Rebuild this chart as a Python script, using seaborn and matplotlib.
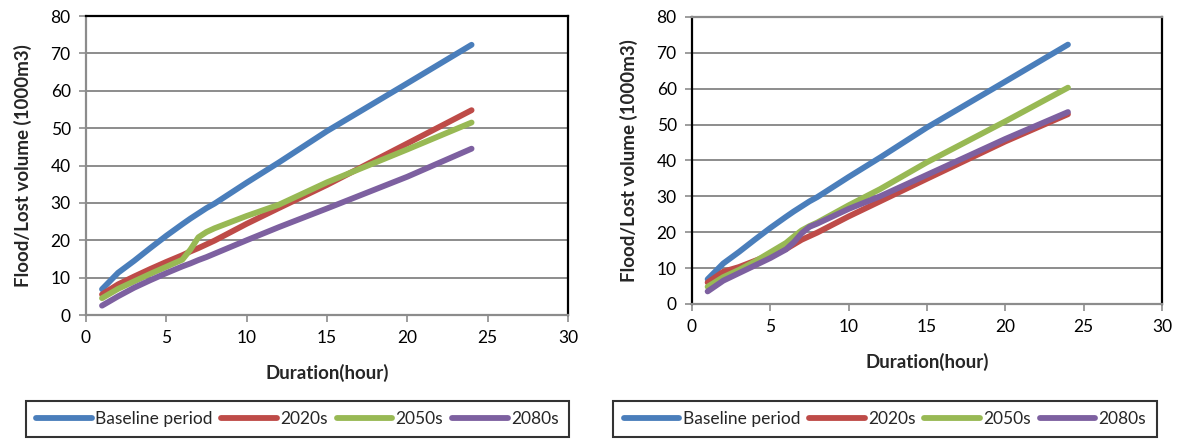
import matplotlib
matplotlib.use("Agg")
import matplotlib.pyplot as plt
import seaborn as sns
import pandas as pd
from matplotlib.lines import Line2D

sns.set_theme(style="white")
plt.rcParams['font.family'] = ['Lato', 'DejaVu Sans']

series_names = ["Baseline period", "2020s", "2050s", "2080s"]
colors = ["#4A7EBB", "#BE4B48", "#98B954", "#7D60A0"]

# Left panel
left_hours = [1, 2, 3, 4, 5, 6, 6.5, 7, 7.5, 8, 10, 12, 15, 20, 24]
left_baseline = [6.9, 11.3, 14.5, 17.9, 21.2, 24.3, 25.8, 27.2, 28.6, 29.8, 35.4, 40.8, 49.2, 62.0, 72.3]
left_2020s = [5.5, 8.2, 10.3, 12.3, 14.2, 16.0, 17.0, 17.9, 18.9, 19.9, 24.4, 28.6, 34.8, 45.9, 54.8]
left_2050s = [4.5, 7.0, 9.0, 11.0, 12.9, 14.8, 17.5, 20.8, 22.2, 23.2, 26.5, 29.5, 35.5, 44.3, 51.5]
left_2080s = [2.5, 5.0, 7.3, 9.3, 11.2, 13.0, 13.8, 14.7, 15.5, 16.4, 20.0, 23.5, 28.5, 37.0, 44.5]

# Right panel
right_hours = [1, 2, 3, 4, 5, 6, 6.5, 7, 7.5, 8, 10, 12, 15, 20, 24]
right_baseline = [6.9, 11.3, 14.5, 17.9, 21.2, 24.3, 25.8, 27.2, 28.6, 29.8, 35.4, 40.8, 49.2, 62.0, 72.3]
right_2020s = [6.0, 9.0, 10.3, 12.0, 13.7, 15.3, 16.6, 17.9, 18.9, 19.9, 24.4, 28.6, 34.9, 45.3, 52.9]
right_2050s = [4.8, 7.5, 9.5, 11.8, 14.4, 17.0, 18.8, 20.5, 21.7, 22.7, 27.5, 32.0, 39.5, 50.9, 60.3]
right_2080s = [3.5, 6.5, 8.6, 10.7, 12.8, 15.2, 17.2, 19.7, 21.5, 22.4, 26.5, 30.0, 36.0, 46.0, 53.5]

x_ticks = [0, 5, 10, 15, 20, 25, 30]
y_ticks = [0, 10, 20, 30, 40, 50, 60, 70, 80]

fig = plt.figure(figsize=(11.92, 4.41), dpi=100)
ax_l = fig.add_axes([0.0721, 0.2857, 0.4044, 0.678])
ax_r = fig.add_axes([0.5805, 0.3107, 0.3943, 0.6508])

def build(hours, vals):
    rows = []
    for name, v in zip(series_names, vals):
        for h, y in zip(hours, v):
            rows.append({"Duration": h, "Volume": y, "Series": name})
    return pd.DataFrame(rows)

panels = [
    (ax_l, build(left_hours, [left_baseline, left_2020s, left_2050s, left_2080s]), "left"),
    (ax_r, build(right_hours, [right_baseline, right_2020s, right_2050s, right_2080s]), "right"),
]

grid_gray = "#8C8C8C"
for ax, df, side in panels:
    sns.lineplot(data=df, x="Duration", y="Volume", hue="Series", palette=colors,
                 hue_order=series_names, linewidth=4.2, ax=ax, legend=False,
                 solid_capstyle="round", solid_joinstyle="round")
    ax.set_xlim(0, 30)
    ax.set_ylim(0, 80)
    ax.set_xticks(x_ticks)
    ax.set_yticks(y_ticks)
    ax.yaxis.grid(True, color=grid_gray, linewidth=1.4)
    ax.xaxis.grid(False)
    ax.set_axisbelow(True)
    ax.tick_params(axis="both", direction="out", length=5, width=1.2, color=grid_gray,
                   labelsize=12.5, labelcolor="black", pad=6, left=True, bottom=True)
    for s in ["top", "right"]:
        ax.spines[s].set_color("black")
        ax.spines[s].set_linewidth(1.6)
    ax.spines["bottom"].set_color(grid_gray)
    ax.spines["bottom"].set_linewidth(1.6)
    if side == "left":
        ax.spines["left"].set_color(grid_gray)
        ax.spines["left"].set_linewidth(1.6)
    else:
        ax.spines["left"].set_color("black")
        ax.spines["left"].set_linewidth(1.6)
        ax.spines["top"].set_color(grid_gray)
    ax.set_xlabel("Duration(hour)", fontsize=13.5, fontweight="bold", labelpad=13)
    ax.set_ylabel("Flood/Lost volume (1000m3)", fontsize=13.5, fontweight="bold", labelpad=13)

handles = [Line2D([0], [0], color=c, linewidth=4.2, solid_capstyle="round") for c in colors]

for cx in [0.2495, 0.7425]:
    leg = fig.legend(handles, series_names, loc="center", bbox_to_anchor=(cx, 0.05), ncol=4,
                     frameon=True, fancybox=False, fontsize=12.5,
                     handlelength=3.2, handletextpad=0.2, columnspacing=0.5,
                     borderaxespad=0, borderpad=0.6)
    leg.get_frame().set_edgecolor("black")
    leg.get_frame().set_linewidth(1.5)

fig.savefig("out.png", dpi=100)
